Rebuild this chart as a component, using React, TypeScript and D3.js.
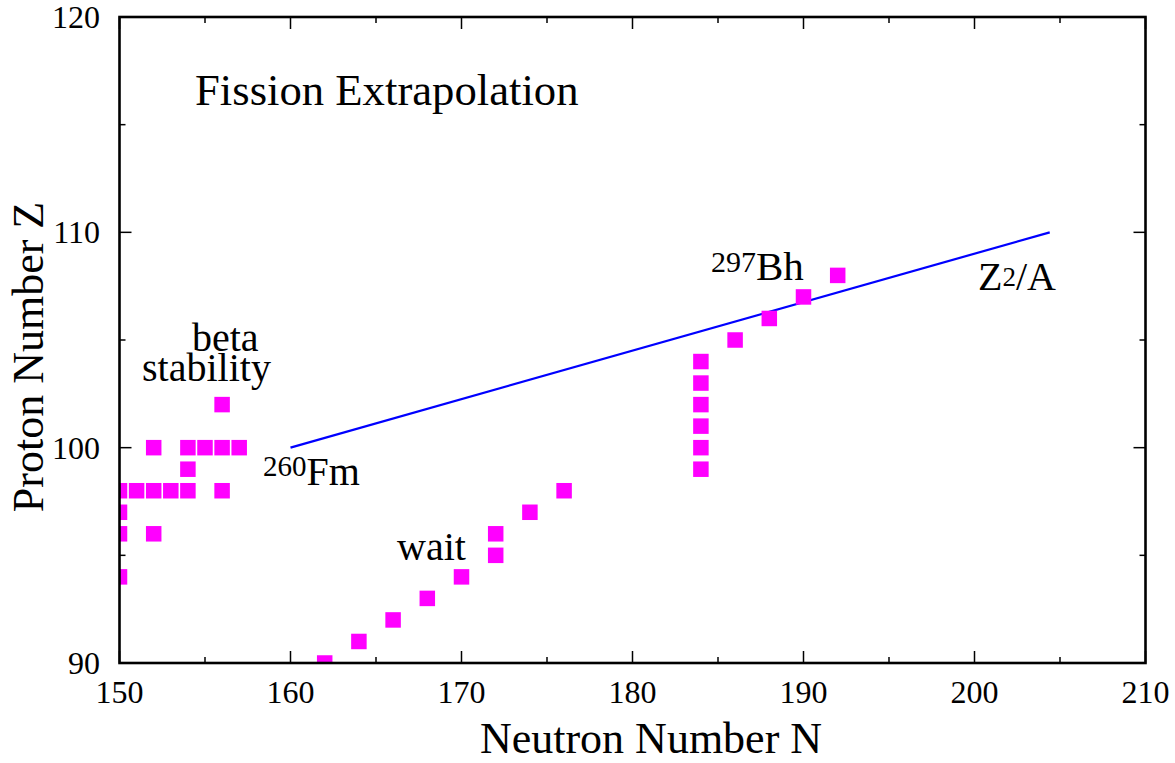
import React from "react";
import * as d3 from "d3";

// Nuclei along the beta-stability region, the r-process waiting path and the fission front
const betaN = [150, 150, 150, 150, 151, 152, 153, 154, 156, 152, 152, 154, 155, 156, 157, 154, 156];
const betaZ = [94, 96, 97, 98, 98, 98, 98, 98, 98, 96, 100, 100, 100, 100, 100, 99, 102];

const waitN = [162, 164, 166, 168, 170, 172, 172, 174, 176];
const waitZ = [90, 91, 92, 93, 94, 95, 96, 97, 98];

const fissionN = [184, 184, 184, 184, 184, 184, 186, 188, 190, 192];
const fissionZ = [99, 100, 101, 102, 103, 104, 105, 106, 107, 108];

// Constant Z^2/A line from 260Fm upward
const lineN = [160, 204.4];
const lineZ = [100, 110];

const xTicks = [150, 160, 170, 180, 190, 200, 210];
const yTicks = [90, 100, 110, 120];
const xMinor = [155, 165, 175, 185, 195, 205];
const yMinor = [95, 105, 115];

const W = 1175;
const H = 763;
const left = 119.5;
const right = 1145.5;
const top = 17;
const bottom = 663;

const FONT = "'Liberation Serif', 'Times New Roman', serif";

export default function App() {
  const x = d3.scaleLinear().domain([150, 210]).range([left, right]);
  const y = d3.scaleLinear().domain([90, 120]).range([bottom, top]);

  const points = [
    ...betaN.map((n, i) => [n, betaZ[i]]),
    ...waitN.map((n, i) => [n, waitZ[i]]),
    ...fissionN.map((n, i) => [n, fissionZ[i]]),
  ];

  const line = d3
    .line<number>()
    .x((d) => x(lineN[d]))
    .y((d) => y(lineZ[d]));

  const sq = 15.5;
  const major = 12;
  const minor = 6;

  return (
    <svg
      width={W}
      height={H}
      style={{ position: "fixed", left: 0, top: 0, background: "#fff" }}
      fontFamily={FONT}
    >
      <defs>
        <clipPath id="plotArea">
          <rect x={left} y={top} width={right - left} height={bottom - top} />
        </clipPath>
      </defs>
      <rect x={0} y={0} width={W} height={H} fill="#fff" />

      {/* ticks on all four sides */}
      <g stroke="#000" strokeWidth={1.5}>
        {xTicks.map((t) => (
          <g key={"xt" + t}>
            <line x1={x(t)} x2={x(t)} y1={bottom} y2={bottom - major} />
            <line x1={x(t)} x2={x(t)} y1={top} y2={top + major} />
          </g>
        ))}
        {xMinor.map((t) => (
          <g key={"xm" + t}>
            <line x1={x(t)} x2={x(t)} y1={bottom} y2={bottom - minor} />
            <line x1={x(t)} x2={x(t)} y1={top} y2={top + minor} />
          </g>
        ))}
        {yTicks.map((t) => (
          <g key={"yt" + t}>
            <line x1={left} x2={left + major} y1={y(t)} y2={y(t)} />
            <line x1={right} x2={right - major} y1={y(t)} y2={y(t)} />
          </g>
        ))}
        {yMinor.map((t) => (
          <g key={"ym" + t}>
            <line x1={left} x2={left + minor} y1={y(t)} y2={y(t)} />
            <line x1={right} x2={right - minor} y1={y(t)} y2={y(t)} />
          </g>
        ))}
      </g>

      {/* data */}
      <g clipPath="url(#plotArea)">
        <path d={line([0, 1]) || ""} fill="none" stroke="#0000ff" strokeWidth={2.2} />
        {points.map(([n, z], i) => (
          <rect
            key={i}
            x={x(n) - sq / 2}
            y={y(z) - sq / 2}
            width={sq}
            height={sq}
            fill="#ff00ff"
          />
        ))}
      </g>

      {/* frame */}
      <rect
        x={left}
        y={top}
        width={right - left}
        height={bottom - top}
        fill="none"
        stroke="#000"
        strokeWidth={2.6}
      />

      {/* tick labels */}
      <g fontSize={32} fill="#000">
        {xTicks.map((t) => (
          <text key={"xl" + t} x={x(t)} y={703} textAnchor="middle">
            {t}
          </text>
        ))}
        {yTicks.map((t) => (
          <text key={"yl" + t} x={100} y={y(t) + 11} textAnchor="end">
            {t}
          </text>
        ))}
      </g>

      {/* axis titles */}
      <text x={651} y={753} fontSize={44} textAnchor="middle">
        Neutron Number N
      </text>
      <text
        transform={`translate(43,357) rotate(-90)`}
        fontSize={44}
        textAnchor="middle"
      >
        Proton Number Z
      </text>

      {/* annotations */}
      <text x={195} y={105} fontSize={44.7}>
        Fission Extrapolation
      </text>
      <text fontSize={40}>
        <tspan x={192} y={351}>beta</tspan>
        <tspan x={142} y={381}>stability</tspan>
      </text>
      <text x={263} y={485} fontSize={40}>
        <tspan fontSize={29} dy={-9}>260</tspan>
        <tspan dy={9}>Fm</tspan>
      </text>
      <text x={397} y={560} fontSize={40}>
        wait
      </text>
      <text x={711} y={280} fontSize={41}>
        <tspan fontSize={30} dy={-8}>297</tspan>
        <tspan dy={8}>Bh</tspan>
      </text>
      <text x={978} y={290} fontSize={40}>
        Z
        <tspan fontSize={27} dy={-4}>2</tspan>
        <tspan dy={4}>/A</tspan>
      </text>
    </svg>
  );
}
